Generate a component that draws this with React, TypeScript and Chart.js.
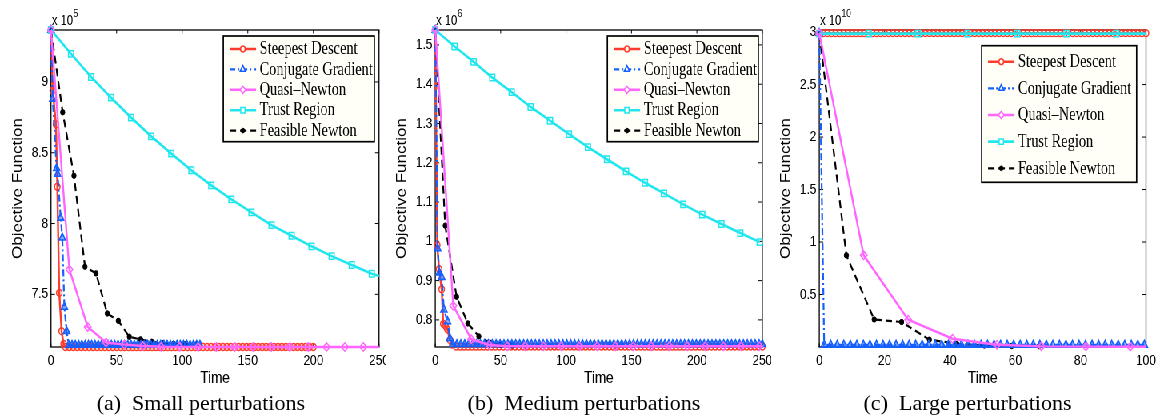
import React, { useEffect, useRef } from 'react';
import { Chart, registerables } from 'chart.js';

Chart.register(...registerables);
Chart.defaults.font.family = '"Liberation Sans", Arial, Helvetica, sans-serif';
Chart.defaults.color = '#000';

// ================= Text =================
const seriesLabels = ['Steepest Descent', 'Conjugate Gradient', 'Quasi\u2013Newton', 'Trust Region', 'Feasible Newton'];
const captions = ['(a)  Small perturbations', '(b)  Medium perturbations', '(c)  Large perturbations'];
const xTitle = 'Time';
const yTitle = 'Objective Function';
const exponents = ['5', '6', '10'];

// ================= Panel (a): small perturbations (x 10^5) =================
const xTicksA = [0, 50, 100, 150, 200, 250];
const yTicksA = [7.5, 8, 8.5, 9];
const yRangeA = [7.128, 9.367];
const sdTimeA = [0, 1.3, 3.8, 4.8, 6.3, 8.1, 9.6];
const sdValA = [9.367, 8.94, 8.7, 8.26, 7.51, 7.24, 7.15];
const sdTailTimeA = [11, 14, 17, 20, 23, 26, 29, 32, 35, 38, 41, 44, 47, 50, 53, 56, 59, 62, 65, 68, 71, 74, 77, 80, 83, 86, 89, 92, 95, 98, 101, 104, 107, 110, 113, 116, 119, 122, 125, 128, 131, 134, 137, 140, 143, 146, 149, 152, 155, 158, 161, 164, 167, 170, 173, 176, 179, 182, 185, 188, 191, 194, 197, 200];
const sdTailValA = 7.128;
const cgTimeA = [0, 1.3, 4.3, 5.0, 7.4, 8.6, 10.2, 11.9];
const cgValA = [9.367, 8.88, 8.39, 8.35, 8.04, 7.9, 7.41, 7.24];
const cgTailTimeA = [13.5, 16, 18.5, 21, 23.5, 26, 28.5, 31, 33.5, 36, 38.5, 41, 43.5, 46, 48.5, 51, 53.5, 56, 58.5, 61, 63.5, 66, 68.5, 71, 73.5, 76, 78.5, 81, 83.5, 86, 88.5, 91, 93.5, 96, 98.5, 101, 103.5, 106, 108.5, 111, 113.5];
const cgTailValA = 7.142;
const qnTimeA = [0, 14, 28, 42, 56, 70, 84, 98, 112, 126, 140, 154, 168, 182, 196, 210, 224, 238];
const qnValA = [9.367, 7.675, 7.27, 7.16, 7.145, 7.135, 7.13, 7.129, 7.128, 7.128, 7.128, 7.128, 7.128, 7.128, 7.128, 7.128, 7.128, 7.128];
const qnEndA = [250, 7.128];
const trTimeA = [0, 15.3, 30.6, 45.8, 61.1, 76.4, 91.7, 107, 122.2, 137.5, 152.8, 168.1, 183.4, 198.6, 213.9, 229.2, 244.5];
const trValA = [9.367, 9.198, 9.035, 8.889, 8.748, 8.616, 8.494, 8.376, 8.27, 8.171, 8.079, 7.989, 7.914, 7.839, 7.77, 7.707, 7.645];
const trEndA = [250, 7.629];
const fnTimeA = [0, 8.9, 17.5, 25.9, 34.3, 42.9, 51.3, 59.7, 68.3, 76.7, 85.1, 93.5, 101.9, 110.3];
const fnValA = [9.367, 8.786, 8.338, 7.695, 7.648, 7.365, 7.313, 7.2, 7.182, 7.165, 7.155, 7.15, 7.147, 7.145];

// ================= Panel (b): medium perturbations (x 10^6) =================
const xTicksB = [0, 50, 100, 150, 200, 250];
const yTicksB = [0.8, 0.9, 1, 1.1, 1.2, 1.3, 1.4, 1.5];
const yRangeB = [0.731, 1.538];
const sdTimeB = [0, 1.5, 2.9, 4.9, 6.1, 7.8, 9.2, 11.2, 13];
const sdValB = [1.538, 0.99, 0.929, 0.878, 0.79, 0.785, 0.776, 0.749, 0.737];
const sdTailTimeB = [16, 19, 22, 25, 28, 31, 34, 37, 40, 43, 46, 49, 52, 55, 58, 61, 64, 67, 70, 73, 76, 79, 82, 85, 88, 91, 94, 97, 100, 103, 106, 109, 112, 115, 118, 121, 124, 127, 130, 133, 136, 139, 142, 145, 148, 151, 154, 157, 160, 163, 166, 169, 172, 175, 178, 181, 184, 187, 190, 193, 196, 199, 202, 205, 208, 211, 214, 217, 220, 223, 226, 229, 232, 235, 238, 241, 244, 247, 250];
const sdTailValB = 0.732;
const cgTimeB = [0, 1.8, 3.1, 4.9, 6.6, 9.4, 11.2];
const cgValB = [1.538, 0.982, 0.92, 0.909, 0.826, 0.796, 0.753];
const cgTailTimeB = [13.5, 16.5, 19.5, 22.5, 25.5, 28.5, 31.5, 34.5, 37.5, 40.5, 43.5, 46.5, 49.5, 52.5, 55.5, 58.5, 61.5, 64.5, 67.5, 70.5, 73.5, 76.5, 79.5, 82.5, 85.5, 88.5, 91.5, 94.5, 97.5, 100.5, 103.5, 106.5, 109.5, 112.5, 115.5, 118.5, 121.5, 124.5, 127.5, 130.5, 133.5, 136.5, 139.5, 142.5, 145.5, 148.5, 151.5, 154.5, 157.5, 160.5, 163.5, 166.5, 169.5, 172.5, 175.5, 178.5, 181.5, 184.5, 187.5, 190.5, 193.5, 196.5, 199.5, 202.5, 205.5, 208.5, 211.5, 214.5, 217.5, 220.5, 223.5, 226.5, 229.5, 232.5, 235.5, 238.5, 241.5, 244.5, 247.5, 250];
const cgTailValB = 0.738;
const qnTimeB = [0, 13.76, 27.5, 41.3, 55, 68.8, 82.6, 96.3, 110, 123.8, 137.6, 151.4, 165.1, 178.9, 192.6, 206.4, 220.2, 233.9, 247.7];
const qnValB = [1.538, 0.836, 0.751, 0.736, 0.733, 0.733, 0.733, 0.733, 0.733, 0.733, 0.733, 0.733, 0.733, 0.733, 0.733, 0.733, 0.733, 0.733, 0.733];
const qnEndB = [250, 0.733];
const trTimeB = [0, 14.8, 29.3, 43.6, 58.4, 72.9, 87.7, 102.2, 116.7, 131.3, 145.8, 160.3, 174.8, 189.6, 204.1, 218.7, 233.2, 248];
const trValB = [1.538, 1.496, 1.457, 1.417, 1.38, 1.342, 1.307, 1.273, 1.24, 1.209, 1.178, 1.149, 1.122, 1.094, 1.068, 1.044, 1.021, 0.998];
const fnTimeB = [0, 7.6, 16.3, 24.9, 33.3, 41.7, 50.1, 58.5];
const fnValB = [1.538, 1.04, 0.859, 0.791, 0.758, 0.742, 0.737, 0.735];

// ================= Panel (c): large perturbations (x 10^10) =================
const xTicksC = [0, 20, 40, 60, 80, 100];
const yTicksC = [0.5, 1, 1.5, 2, 2.5, 3];
const yRangeC = [0, 3.02];
const sdTimeC = [0, 1.25, 2.5, 3.75, 5, 6.25, 7.5, 8.75, 10, 11.25, 12.5, 13.75, 15, 16.25, 17.5, 18.75, 20, 21.25, 22.5, 23.75, 25, 26.25, 27.5, 28.75, 30, 31.25, 32.5, 33.75, 35, 36.25, 37.5, 38.75, 40, 41.25, 42.5, 43.75, 45, 46.25, 47.5, 48.75, 50, 51.25, 52.5, 53.75, 55, 56.25, 57.5, 58.75, 60, 61.25, 62.5, 63.75, 65, 66.25, 67.5, 68.75, 70, 71.25, 72.5, 73.75, 75, 76.25, 77.5, 78.75, 80, 81.25, 82.5, 83.75, 85, 86.25, 87.5, 88.75, 90, 91.25, 92.5, 93.75, 95, 96.25, 97.5, 98.75, 100];
const sdLevelC = 2.99;
const cgTimeC = [0];
const cgValC = [2.99];
const cgTailTimeC = [1.5, 3.5, 5.5, 7.5, 9.5, 11.5, 13.5, 15.5, 17.5, 19.5, 21.5, 23.5, 25.5, 27.5, 29.5, 31.5, 33.5, 35.5, 37.5, 39.5, 41.5, 43.5, 45.5, 47.5, 49.5, 51.5, 53.5, 55.5, 57.5, 59.5, 61.5, 63.5, 65.5, 67.5, 69.5, 71.5, 73.5, 75.5, 77.5, 79.5, 81.5, 83.5, 85.5, 87.5, 89.5, 91.5, 93.5, 95.5, 97.5, 99.5];
const cgTailValC = 0.02;
const qnTimeC = [0, 13.6, 27.2, 40.8, 54.4, 68, 81.6, 95.2];
const qnValC = [2.99, 0.873, 0.26, 0.079, 0.022, 0.006, 0.004, 0.003];
const qnEndC = [100, 0.003];
const trTimeC = [0, 15.1, 30.2, 45.4, 60.6, 75.7, 90.9];
const trValC = [2.985, 2.985, 2.985, 2.985, 2.985, 2.985, 2.985];
const trEndC = [100, 2.985];
const fnTimeC = [0, 8.3, 16.8, 25.2, 33.7, 42.1, 50.5, 58.9, 67.3];
const fnValC = [2.99, 0.873, 0.262, 0.238, 0.07, 0.03, 0.015, 0.01, 0.008];

// ================= Styling / layout =================
const SQUEEZE = 0.8; // the original figure is horizontally compressed
const INNER_W = 1158 / SQUEEZE;
const H = 417;

const STYLES = [
  { color: '#ff3b2b', dash: [] as number[], marker: 'circle', r: 3.4, fill: 'rgba(255,255,255,0)', mw: 1.5, lw: 2.4, order: 4 },
  { color: '#1560ff', dash: [7, 3, 2, 3], marker: 'triangle', r: 4.5, fill: 'rgba(21,96,255,0.5)', mw: 1.6, lw: 2.2, order: 2 },
  { color: '#ff66ff', dash: [] as number[], marker: 'rectRot', r: 4.2, fill: 'rgba(255,255,255,0)', mw: 1.5, lw: 2.4, order: 0 },
  { color: '#22e6ee', dash: [] as number[], marker: 'rect', r: 4.5, fill: 'rgba(255,255,255,0)', mw: 1.5, lw: 2.6, order: 1 },
  { color: '#000000', dash: [8, 5], marker: 'circle', r: 2.7, fill: '#000000', mw: 1, lw: 2.2, order: 3 },
];

type Pt = { x: number; y: number };
const pts = (t: number[], v: number[]): Pt[] => t.map((x, i) => ({ x, y: v[i] }));
const lvl = (t: number[], v: number): Pt[] => t.map((x) => ({ x, y: v }));

type Series = { points: Pt[]; marked: number };
function series(marked: Pt[], end?: number[]): Series {
  const points = end ? [...marked, { x: end[0], y: end[1] }] : marked;
  return { points, marked: marked.length };
}

type PanelCfg = {
  key: string; canvasX: number; canvasW: number; yW: number; padRight: number; yTitlePad: number;
  xMax: number; xTicks: number[]; yTicks: number[]; yRange: number[]; exp: string;
  legend: { x: number; y: number; w: number; h: number; row0: number; dy: number };
  series: Series[];
};

const panels: PanelCfg[] = [
  {
    key: 'a', canvasX: 0, canvasW: 482, yW: 63.75, padRight: 8.25, yTitlePad: 12.3,
    xMax: 250, xTicks: xTicksA, yTicks: yTicksA, yRange: yRangeA, exp: exponents[0],
    legend: { x: 279.1, y: 36, w: 188.8, h: 105.7, row0: 49, dy: 20.4 },
    series: [
      series([...pts(sdTimeA, sdValA), ...lvl(sdTailTimeA, sdTailValA)]),
      series([...pts(cgTimeA, cgValA), ...lvl(cgTailTimeA, cgTailValA)]),
      series(pts(qnTimeA, qnValA), qnEndA),
      series(pts(trTimeA, trValA), trEndA),
      series(pts(fnTimeA, fnValA)),
    ],
  },
  {
    key: 'b', canvasX: 482, canvasW: 482, yW: 62.1, padRight: 11.1, yTitlePad: 10.6,
    xMax: 250, xTicks: xTicksB, yTicks: yTicksB, yRange: yRangeB, exp: exponents[1],
    legend: { x: 277.2, y: 36, w: 188.7, h: 105.7, row0: 49, dy: 20.4 },
    series: [
      series([...pts(sdTimeB, sdValB), ...lvl(sdTailTimeB, sdTailValB)]),
      series([...pts(cgTimeB, cgValB), ...lvl(cgTailTimeB, cgTailValB)]),
      series(pts(qnTimeB, qnValB), qnEndB),
      series(pts(trTimeB, trValB)),
      series(pts(fnTimeB, fnValB)),
    ],
  },
  {
    key: 'c', canvasX: 964, canvasW: 483, yW: 60.1, padRight: 14.5, yTitlePad: 8.6,
    xMax: 100, xTicks: xTicksC, yTicks: yTicksC, yRange: yRangeC, exp: exponents[2],
    legend: { x: 263.1, y: 45.7, w: 193.7, h: 136.6, row0: 61.7, dy: 26.65 },
    series: [
      series(lvl(sdTimeC, sdLevelC)),
      series([...pts(cgTimeC, cgValC), ...lvl(cgTailTimeC, cgTailValC)]),
      series(pts(qnTimeC, qnValC), qnEndC),
      series(pts(trTimeC, trValC), trEndC),
      series(pts(fnTimeC, fnValC)),
    ],
  },
];

const fmt = (v: number) => String(Math.round(v * 100) / 100);

function drawMarker(ctx: CanvasRenderingContext2D, kind: string, x: number, y: number, r: number, stroke: string, fill: string, lw: number) {
  ctx.beginPath();
  if (kind === 'circle') {
    ctx.arc(x, y, r, 0, Math.PI * 2);
  } else if (kind === 'triangle') {
    for (let i = 0; i < 3; i++) {
      const a = (i * 2 * Math.PI) / 3;
      const px = x + Math.sin(a) * r;
      const py = y - Math.cos(a) * r;
      if (i === 0) ctx.moveTo(px, py); else ctx.lineTo(px, py);
    }
    ctx.closePath();
  } else if (kind === 'rectRot') {
    ctx.moveTo(x, y - r); ctx.lineTo(x + r, y); ctx.lineTo(x, y + r); ctx.lineTo(x - r, y); ctx.closePath();
  } else {
    const s = r * Math.SQRT1_2;
    ctx.rect(x - s, y - s, 2 * s, 2 * s);
  }
  ctx.setLineDash([]);
  ctx.fillStyle = fill;
  ctx.fill();
  ctx.strokeStyle = stroke;
  ctx.lineWidth = lw;
  ctx.stroke();
}

function makePlugin(p: PanelCfg) {
  return {
    id: 'matlabFrame_' + p.key,
    beforeDatasetsDraw(chart: any) {
      const { ctx, chartArea: a, scales } = chart;
      ctx.save();
      ctx.setLineDash([]);
      ctx.strokeStyle = '#000';
      ctx.lineWidth = 1.3;
      ctx.strokeRect(a.left, a.top, a.right - a.left, a.bottom - a.top);
      ctx.lineWidth = 1;
      ctx.beginPath();
      for (const t of scales.x.ticks) {
        const px = scales.x.getPixelForValue(t.value);
        ctx.moveTo(px, a.bottom); ctx.lineTo(px, a.bottom - 3.5);
        ctx.moveTo(px, a.top); ctx.lineTo(px, a.top + 3.5);
      }
      for (const t of scales.y.ticks) {
        const py = scales.y.getPixelForValue(t.value);
        ctx.moveTo(a.left, py); ctx.lineTo(a.left + 5, py);
        ctx.moveTo(a.right, py); ctx.lineTo(a.right - 5, py);
      }
      ctx.stroke();
      ctx.restore();
    },
    afterDatasetsDraw(chart: any) {
      const { ctx, chartArea: a } = chart;
      const L = p.legend;
      ctx.save();
      // legend box
      ctx.setLineDash([]);
      ctx.fillStyle = '#fffff8';
      ctx.fillRect(L.x, L.y, L.w, L.h);
      ctx.strokeStyle = '#000';
      ctx.lineWidth = 1.7;
      ctx.strokeRect(L.x, L.y, L.w, L.h);
      ctx.font = '18px "Liberation Serif", "Times New Roman", serif';
      ctx.textBaseline = 'middle';
      ctx.textAlign = 'left';
      seriesLabels.forEach((label, i) => {
        const s = STYLES[i];
        const y = L.row0 + i * L.dy;
        ctx.beginPath();
        ctx.setLineDash(s.dash);
        ctx.strokeStyle = s.color;
        ctx.lineWidth = s.lw;
        ctx.moveTo(L.x + 8, y);
        ctx.lineTo(L.x + 41, y);
        ctx.stroke();
        drawMarker(ctx, s.marker, L.x + 24.5, y, s.r * 0.85, s.color, i === 4 ? '#000' : '#ffffff', s.mw);
        ctx.fillStyle = '#000';
        ctx.fillText(label, L.x + 45.5, y + 0.5);
      });
      // exponent label
      ctx.fillStyle = '#000';
      ctx.textBaseline = 'alphabetic';
      ctx.font = '14px "Liberation Sans", Arial, sans-serif';
      const base = 'x 10';
      ctx.fillText(base, a.left + 1, 25);
      const w = ctx.measureText(base).width;
      ctx.font = '10.5px "Liberation Sans", Arial, sans-serif';
      ctx.fillText(p.exp, a.left + 1 + w + 0.5, 16.5);
      ctx.restore();
    },
  };
}

function buildConfig(p: PanelCfg): any {
  return {
    type: 'line',
    data: {
      datasets: p.series.map((s, i) => {
        const st = STYLES[i];
        return {
          label: seriesLabels[i],
          data: s.points,
          borderColor: st.color,
          borderWidth: st.lw,
          borderDash: st.dash,
          pointStyle: st.marker,
          pointRadius: (c: any) => (c.dataIndex < s.marked ? st.r : 0),
          pointBorderColor: st.color,
          pointBackgroundColor: st.fill,
          pointBorderWidth: st.mw,
          tension: 0,
          fill: false,
          clip: false,
          order: st.order,
        };
      }),
    },
    options: {
      responsive: false,
      animation: false,
      events: [],
      layout: { padding: { left: 0, top: 30, right: p.padRight, bottom: 25 } },
      plugins: { legend: { display: false }, tooltip: { enabled: false } },
      scales: {
        x: {
          type: 'linear',
          min: 0,
          max: p.xMax,
          grid: { display: false, drawTicks: false },
          border: { display: false },
          afterBuildTicks: (s: any) => { s.ticks = p.xTicks.map((v) => ({ value: v })); },
          afterFit: (s: any) => { s.height = 45; s.paddingLeft = 0; s.paddingRight = 0; },
          ticks: { autoSkip: false, maxRotation: 0, minRotation: 0, padding: 5, color: '#000', font: { size: 15 }, callback: (v: number) => fmt(v) },
          title: { display: true, text: xTitle, color: '#000', font: { size: 17 }, padding: { top: 0, bottom: 3.8 } },
        },
        y: {
          type: 'linear',
          min: p.yRange[0],
          max: p.yRange[1],
          grid: { display: false, drawTicks: false },
          border: { display: false },
          afterBuildTicks: (s: any) => { s.ticks = p.yTicks.map((v) => ({ value: v })); },
          afterFit: (s: any) => { s.width = p.yW; s.paddingTop = 0; s.paddingBottom = 0; },
          ticks: { autoSkip: false, padding: 3.4, color: '#000', font: { size: 15 }, callback: (v: number) => fmt(v) },
          title: { display: true, text: yTitle, color: '#000', font: { size: 17 }, padding: { top: p.yTitlePad, bottom: 0 } },
        },
      },
    },
    plugins: [makePlugin(p)],
  };
}

function Panel({ p }: { p: PanelCfg }) {
  const ref = useRef<HTMLCanvasElement>(null);
  useEffect(() => {
    if (!ref.current) return;
    const chart = new Chart(ref.current, buildConfig(p));
    return () => chart.destroy();
  }, [p]);
  return <canvas ref={ref} width={p.canvasW} height={H} style={{ position: 'absolute', left: p.canvasX, top: 0 }} />;
}

const captionCenters = [200.8, 584, 967.5];

export default function App() {
  useEffect(() => {
    document.body.style.margin = '0';
    document.body.style.overflow = 'hidden';
  }, []);
  return (
    <div style={{ position: 'absolute', left: 0, top: 0, width: 1158, height: H, overflow: 'hidden', background: '#fff' }}>
      <div style={{ position: 'absolute', left: 0, top: 0, width: INNER_W, height: H, transform: `scaleX(${SQUEEZE})`, transformOrigin: '0 0' }}>
        {panels.map((p) => (
          <Panel key={p.key} p={p} />
        ))}
      </div>
      {captions.map((c, i) => (
        <div
          key={c}
          style={{
            position: 'absolute', left: captionCenters[i] - 200, width: 400, top: 389, height: 27, lineHeight: '27px',
            fontSize: 22, fontFamily: '"Liberation Serif", "Times New Roman", serif', textAlign: 'center', whiteSpace: 'pre', color: '#000',
          }}
        >
          {c}
        </div>
      ))}
    </div>
  );
}
